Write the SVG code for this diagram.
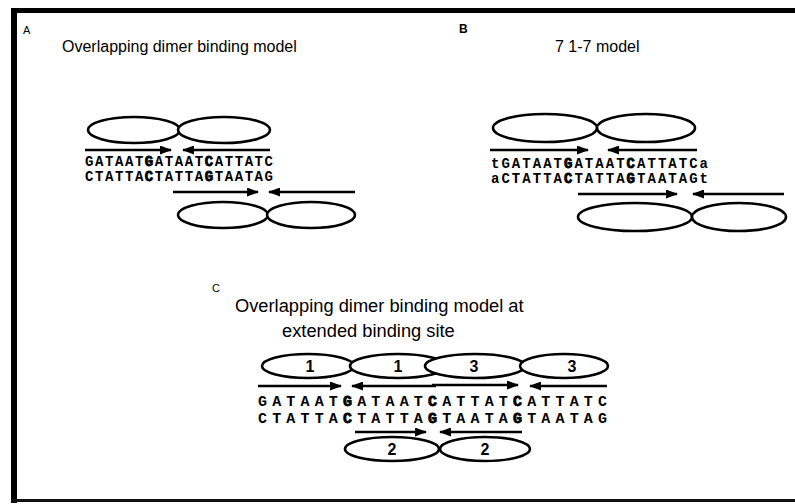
<svg xmlns="http://www.w3.org/2000/svg" width="795" height="504" viewBox="0 0 795 504">
<defs>
<marker id="ah" markerUnits="userSpaceOnUse" markerWidth="12" markerHeight="9" refX="11" refY="4.5" orient="auto">
<path d="M0,0 L12,4.5 L0,9 z" fill="#000"/>
</marker>
<style>
.lbl{font-family:"Liberation Sans",Arial,sans-serif;font-size:11px;fill:#000}
.ttl{font-family:"Liberation Sans",Arial,sans-serif;font-size:16px;fill:#000}
.seq{font-family:"Liberation Mono","Courier New",monospace;font-size:14px;font-weight:bold;fill:#000}
.seqc{font-size:15px}
.b{stroke:#000;stroke-width:0.8}
.ell{fill:#fff;stroke:#000;stroke-width:2.6}
.arr{fill:none;stroke:#000;stroke-width:2.5;marker-end:url(#ah)}
.num{font-family:"Liberation Sans",Arial,sans-serif;font-size:16px;font-weight:bold;text-anchor:middle;fill:#000}
</style>
</defs>
<rect width="795" height="504" fill="#fff"/>
<g id="frame">
<rect x="11" y="8" width="784" height="5" fill="#000"/>
<rect x="11" y="8" width="6" height="495" fill="#000"/>
<line x1="11" y1="500.5" x2="795" y2="500.5" stroke="#111" stroke-width="3"/>
</g>
<g id="labels">
<text class="lbl" x="23" y="34">A</text>
<text class="lbl" x="459" y="33" style="font-size:12px;font-weight:bold">B</text>
<text class="lbl" x="212" y="292">C</text>
</g>
<g id="panelA">
<text class="ttl" x="62" y="52">Overlapping dimer binding model</text>
<g id="A-dimer-top">
<ellipse class="ell" cx="134" cy="130" rx="46" ry="13"/>
<ellipse class="ell" cx="224" cy="130" rx="46" ry="13"/>
</g>
<text class="seq" x="85" y="166" textLength="188" lengthAdjust="spacing">GATAAT<tspan class="b">G</tspan>ATAAT<tspan class="b">C</tspan>ATTATC</text>
<text class="seq" x="85" y="181" textLength="188" lengthAdjust="spacing">CTATTA<tspan class="b">C</tspan>TATTA<tspan class="b">G</tspan>TAATAG</text>
<g id="A-dimer-bottom">
<ellipse class="ell" cx="223" cy="215" rx="45" ry="13"/>
<ellipse class="ell" cx="311" cy="215" rx="44" ry="13"/>
</g>
</g>
<g id="panelB">
<text class="ttl" x="555" y="52">7 1-7 model</text>
<g id="B-dimer-top">
<ellipse class="ell" cx="545" cy="128" rx="52" ry="14"/>
<ellipse class="ell" cx="646" cy="128" rx="49" ry="14"/>
</g>
<text class="seq" x="491" y="168" textLength="217" lengthAdjust="spacing">tGATAAT<tspan class="b">G</tspan>ATAAT<tspan class="b">C</tspan>ATTATCa</text>
<text class="seq" x="491" y="183" textLength="217" lengthAdjust="spacing">aCTATTA<tspan class="b">C</tspan>TATTA<tspan class="b">G</tspan>TAATAGt</text>
<g id="B-dimer-bottom">
<ellipse class="ell" cx="635" cy="217" rx="57" ry="14"/>
<ellipse class="ell" cx="739" cy="217" rx="47" ry="14"/>
</g>
</g>
<g id="panelC">
<text class="ttl" x="235" y="312" style="font-size:18.3px">Overlapping dimer binding model at</text>
<text class="ttl" x="282" y="337" style="font-size:18.3px">extended binding site</text>
<g id="C-top">
<ellipse class="ell" cx="308" cy="366" rx="46" ry="12"/>
<ellipse class="ell" cx="398" cy="366" rx="48" ry="12"/>
<ellipse class="ell" cx="475" cy="366" rx="50" ry="12"/>
<ellipse class="ell" cx="564" cy="366" rx="44" ry="12"/>
<text class="num" x="310" y="372">1</text>
<text class="num" x="398" y="372">1</text>
<text class="num" x="474" y="372">3</text>
<text class="num" x="572" y="372">3</text>
</g>
<text class="seq seqc" x="258" y="406" textLength="349" lengthAdjust="spacing">GATAAT<tspan class="b">G</tspan>ATAAT<tspan class="b">C</tspan>ATTAT<tspan class="b">C</tspan>ATTATC</text>
<text class="seq seqc" x="258" y="423" textLength="349" lengthAdjust="spacing">CTATTA<tspan class="b">C</tspan>TATTA<tspan class="b">G</tspan>TAATA<tspan class="b">G</tspan>TAATAG</text>
<g id="C-bottom">
<ellipse class="ell" cx="392" cy="449" rx="47" ry="12"/>
<ellipse class="ell" cx="485" cy="449" rx="45" ry="12"/>
<text class="num" x="392" y="455">2</text>
<text class="num" x="485" y="455">2</text>
</g>
</g>
<g id="connectors">
<line class="arr" x1="85" y1="150" x2="171" y2="150"/>
<line class="arr" x1="270" y1="150" x2="183" y2="150"/>
<line class="arr" x1="173" y1="192" x2="258" y2="192"/>
<line class="arr" x1="355" y1="192" x2="269" y2="192"/>
<line class="arr" x1="490" y1="150" x2="588" y2="150"/>
<line class="arr" x1="697" y1="150" x2="608" y2="150"/>
<line class="arr" x1="578" y1="194" x2="677" y2="194"/>
<line class="arr" x1="784" y1="194" x2="693" y2="194"/>
<line class="arr" x1="258" y1="386" x2="341" y2="386"/>
<line class="arr" x1="436" y1="386" x2="352" y2="386"/>
<line class="arr" x1="432" y1="385" x2="518" y2="385"/>
<line class="arr" x1="607" y1="386" x2="530" y2="386"/>
<line class="arr" x1="355" y1="432" x2="426" y2="432"/>
<line class="arr" x1="522" y1="432" x2="440" y2="432"/>
</g>
</svg>
